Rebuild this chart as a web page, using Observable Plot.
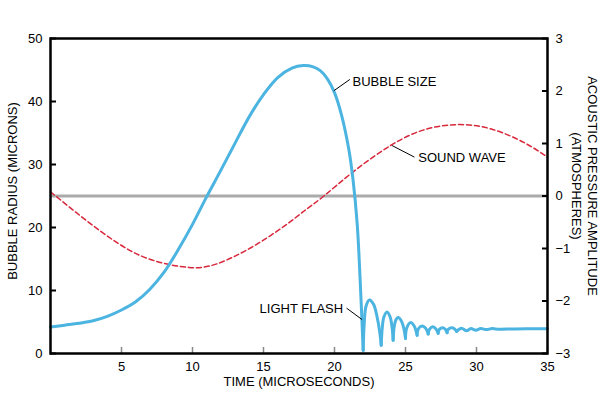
<!DOCTYPE html>
<html><head><meta charset="utf-8">
<script src="https://cdn.jsdelivr.net/npm/d3@7"></script>
<script src="https://cdn.jsdelivr.net/npm/@observablehq/plot@0.6"></script>
<style>body{margin:0;background:#fff;} #chart svg{display:block;}</style>
</head><body><div id="chart"></div>
<script>
// Axes / ticks
const timeDomain = [0, 35];
const radiusDomain = [0, 50];
const timeTicks = [5, 10, 15, 20, 25, 30, 35];
const radiusTicks = [0, 10, 20, 30, 40, 50];
const pressureTicks = [-3, -2, -1, 0, 1, 2, 3];
const pressureBaseline = [0];

// Bubble radius (microns) vs time (microseconds); seg = continuous stroke piece
const bubbleT = [0,1,2,3,4,5,6,7,8,9,10,11,12,13,14,15,16,17,17.8,18.5,19,19.5,20,20.5,21,21.3,21.6,21.8,22.02,
  22.02,22.1,22.22,22.46,22.75,23.0,23.18,23.29,
  23.29,23.36,23.48,23.7,23.92,24.05,24.13,
  24.13,24.2,24.3,24.48,24.7,24.88,25.0,
  25.0,25.08,25.35,25.6,25.82,
  25.82,25.9,26.17,26.42,26.6,
  26.6,26.68,26.92,27.15,27.3,
  27.3,27.38,27.63,27.82,27.93,
  27.93,28.0,28.29,28.5,28.6,
  28.6,28.94,29.3,29.6,29.95,30.3,30.7,31.1,31.6,32.5,33.5,35];
const bubbleR = [4.2,4.5,4.8,5.2,5.9,6.9,8.2,10.2,12.9,16.5,20.5,24.9,29.1,33.4,37.6,41.1,43.8,45.3,45.7,45.5,44.9,43.6,41.4,37.8,32.5,27.7,20.5,12,0.5,
  0.5,5.0,7.5,8.5,7.8,5.8,3.5,1.3,
  1.3,4.0,5.8,6.6,5.8,4.2,2.1,
  2.1,4.2,5.2,5.7,5.2,4.0,2.4,
  2.4,4.0,4.9,4.4,2.9,
  2.9,3.9,4.35,4.0,3.1,
  3.1,3.8,4.25,3.9,3.2,
  3.2,3.8,4.1,3.8,3.3,
  3.3,3.8,4.1,3.8,3.5,
  3.5,4.0,3.6,3.95,3.7,3.95,3.8,3.95,3.85,3.9,3.92,3.93];
const bubbleSeg = [0,0,0,0,0,0,0,0,0,0,0,0,0,0,0,0,0,0,0,0,0,0,0,0,0,0,0,0,0,
  1,1,1,1,1,1,1,1,
  2,2,2,2,2,2,2,
  3,3,3,3,3,3,3,
  4,4,4,4,4,
  5,5,5,5,5,
  6,6,6,6,6,
  7,7,7,7,7,
  8,8,8,8,8,
  9,9,9,9,9,9,9,9,9,9,9,9];

// Acoustic pressure amplitude (atmospheres)
const waveT = [0,2.35,4.69,7.04,9.74,11.74,14.08,16.43,17.84,19.25,21.36,23.94,26.29,28.64,30.99,33.33,35];
const waveP = [0.08,-0.43,-0.89,-1.21,-1.36,-1.29,-0.99,-0.58,-0.29,0.0,0.47,0.96,1.26,1.36,1.28,1.02,0.74];

// Annotations (time, radius-axis units)
const labelText = ["BUBBLE SIZE", "SOUND WAVE", "LIGHT FLASH"];
const labelT = [21.27, 25.9, 20.61];
const labelR = [43.2, 31.08, 7.05];
const labelAnchor = ["start", "start", "end"];
const leaderT1 = [21.08, 25.63, 20.85];
const leaderR1 = [43.5, 31.17, 7.2];
const leaderT2 = [19.95, 24.06, 21.95];
const leaderR2 = [41.7, 33.0, 5.37];

// pressure <-> radius axis mapping (right axis -3..3 spans left axis 0..50)
const pToR = p => 25 + p * 25 / 3;
const rToP = r => Math.round((r - 25) * 3 / 25);
const fmtP = v => (v < 0 ? "\u2212" + Math.abs(v) : String(v));

const bubble = bubbleT.map((t, i) => ({t, r: bubbleR[i], seg: bubbleSeg[i]}));
const wave = waveT.map((t, i) => ({t, r: pToR(waveP[i])}));
const labels = labelText.map((text, i) => ({text, t: labelT[i], r: labelR[i], anchor: labelAnchor[i]}));
const leaders = leaderT1.map((t1, i) => ({t1, r1: leaderR1[i], t2: leaderT2[i], r2: leaderR2[i]}));

const font = "Liberation Sans, Arial, Helvetica, sans-serif";

const chart = Plot.plot({
  width: 616,
  height: 398,
  marginLeft: 50,
  marginRight: 69,
  marginTop: 38,
  marginBottom: 45,
  style: {fontFamily: font, fontSize: "13px", background: "#fff", color: "black"},
  x: {domain: timeDomain, axis: null},
  y: {domain: radiusDomain, axis: null},
  marks: [
    Plot.ruleY(pressureBaseline, {y: d => pToR(d), stroke: "#aaaaaa", strokeWidth: 3}),
    Plot.line(wave, {x: "t", y: "r", stroke: "#d8283c", strokeWidth: 1.5, strokeDasharray: "5,3", curve: "natural"}),
    Plot.line(bubble, {x: "t", y: "r", z: "seg", stroke: "#4bb4e0", strokeWidth: 3, curve: "catmull-rom"}),
    Plot.link(leaders, {x1: "t1", y1: "r1", x2: "t2", y2: "r2", stroke: "black", strokeWidth: 1}),
    Plot.text(labels.filter(d => d.anchor === "start"), {x: "t", y: "r", text: "text", textAnchor: "start", fontSize: 13, fill: "black"}),
    Plot.text(labels.filter(d => d.anchor === "end"), {x: "t", y: "r", text: "text", textAnchor: "end", fontSize: 13, fill: "black"}),
    Plot.axisY({anchor: "left", ticks: radiusTicks, tickSize: -6, tickPadding: 14, stroke: "black", strokeWidth: 2, label: null, fontSize: 13, fill: "black"}),
    Plot.axisY({anchor: "right", ticks: pressureTicks.map(pToR), tickFormat: d => fmtP(rToP(d)), tickSize: -6, tickPadding: 14, stroke: "black", strokeWidth: 2, label: null, fontSize: 13, fill: "black"}),
    Plot.axisX({anchor: "bottom", ticks: timeTicks, tickSize: -6, tickPadding: 14, stroke: "#888", strokeWidth: 1.5, label: null, fontSize: 13, fill: "black"}),
    Plot.frame({stroke: "black", strokeWidth: 2.5}),
    Plot.text(["BUBBLE RADIUS (MICRONS)"], {frameAnchor: "left", dx: -38, dy: -5, rotate: -90, textAnchor: "middle", fontSize: 13, fill: "black"}),
    Plot.text(["TIME (MICROSECONDS)"], {frameAnchor: "bottom", dy: 32, textAnchor: "middle", fontSize: 13, fill: "black"}),
    Plot.text(["ACOUSTIC PRESSURE AMPLITUDE\n(ATMOSPHERES)"], {frameAnchor: "right", dx: 38, dy: -10, rotate: 90, textAnchor: "middle", lineHeight: 1.23, fontSize: 13, fill: "black"})
  ]
});
document.getElementById("chart").appendChild(chart);
</script>
</body></html>
